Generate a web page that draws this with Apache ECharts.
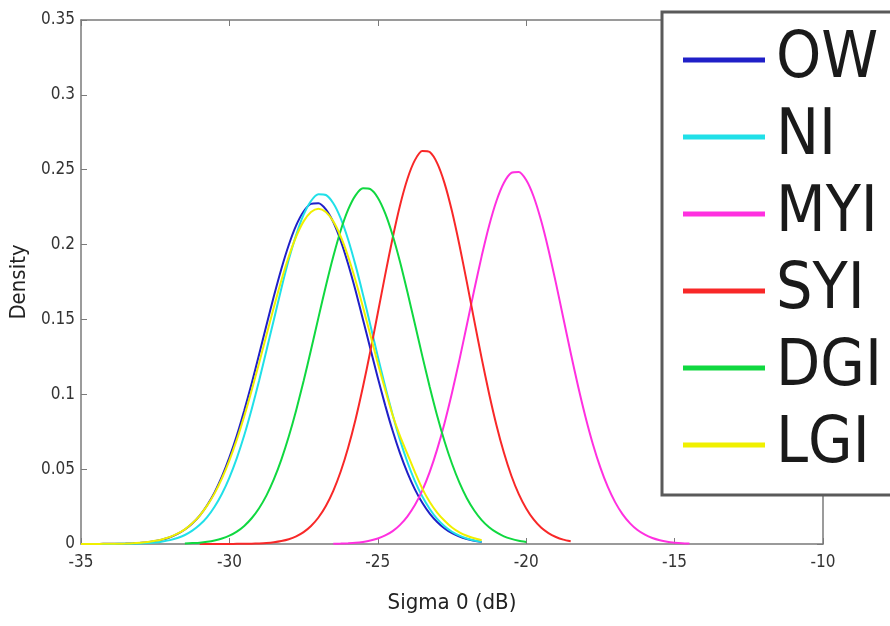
<!DOCTYPE html>
<html>
<head>
<meta charset="utf-8">
<script src="https://cdn.jsdelivr.net/npm/echarts@6/dist/echarts.min.js"></script>
<style>
  html, body { margin: 0; padding: 0; background: #fff; }
  #chart { width: 890px; height: 626px; }
</style>
</head>
<body>
<div id="chart"></div>
<script>
var font = "'DejaVu Sans Condensed', 'Liberation Sans Narrow', 'Liberation Sans', sans-serif";

// sigma 0 grid (dB), shared by every curve
var xs = [-35, -34.75, -34.5, -34.25, -34, -33.75, -33.5, -33.25, -33, -32.75, -32.5, -32.25,
  -32, -31.75, -31.5, -31.25, -31, -30.75, -30.5, -30.25, -30, -29.75, -29.5, -29.25,
  -29, -28.75, -28.5, -28.25, -28, -27.75, -27.5, -27.25, -27, -26.75, -26.5, -26.25,
  -26, -25.75, -25.5, -25.25, -25, -24.75, -24.5, -24.25, -24, -23.75, -23.5, -23.25,
  -23, -22.75, -22.5, -22.25, -22, -21.75, -21.5, -21.25, -21, -20.75, -20.5, -20.25,
  -20, -19.75, -19.5, -19.25, -19, -18.75, -18.5, -18.25, -18, -17.75, -17.5, -17.25,
  -17, -16.75, -16.5, -16.25, -16, -15.75, -15.5, -15.25, -15, -14.75, -14.5];

// densities; each curve starts at its own x (first value)
var owFrom = -35;
var ow = [0, 0, 0, 0.0001, 0.0001, 0.0002, 0.0003, 0.0005, 0.0008, 0.0012, 0.0020, 0.0030,
  0.0045, 0.0067, 0.0097, 0.0137, 0.019, 0.0259, 0.0345, 0.0451, 0.0578, 0.0724, 0.0891, 0.1072,
  0.1265, 0.1462, 0.1656, 0.1837, 0.1997, 0.2128, 0.2221, 0.2272, 0.2276, 0.2235, 0.215, 0.2026,
  0.187, 0.1693, 0.150, 0.1304, 0.111, 0.0926, 0.0756, 0.0605, 0.0475, 0.0365, 0.0275, 0.0203,
  0.0147, 0.0104, 0.0072, 0.0049, 0.0033, 0.0021, 0.0014];

var niFrom = -35;
var ni = [0, 0, 0, 0, 0, 0.0001, 0.0001, 0.0002, 0.0004, 0.0006, 0.001, 0.0017,
  0.0026, 0.004, 0.006, 0.0089, 0.0128, 0.018, 0.0249, 0.0336, 0.0444, 0.0574, 0.0726, 0.09,
  0.1091, 0.1294, 0.150, 0.1707, 0.190, 0.2065, 0.220, 0.2291, 0.2336, 0.2331, 0.2276, 0.2175,
  0.2034, 0.1861, 0.1667, 0.1461, 0.1253, 0.1052, 0.0864, 0.0694, 0.0546, 0.042, 0.0317, 0.0234,
  0.0168, 0.0119, 0.0082, 0.0056, 0.0037, 0.0024, 0.0015];

var myiFrom = -26.5;
var myi = [0.0002, 0.0003, 0.0005, 0.0008, 0.0014, 0.0023, 0.0037, 0.0057, 0.0086, 0.0128,
  0.0185, 0.026, 0.0358, 0.0482, 0.0632, 0.0809, 0.101, 0.123, 0.1463, 0.1698, 0.1923, 0.2126,
  0.2293, 0.2413, 0.2479, 0.2485, 0.2431, 0.2321, 0.2162, 0.1966, 0.1744, 0.151, 0.1276, 0.1052,
  0.0847, 0.0665, 0.051, 0.0381, 0.0278, 0.0198, 0.0138, 0.0093, 0.0062, 0.004, 0.0025, 0.0015,
  0.0009, 0.0005, 0.0003];

var syiFrom = -31;
var syi = [0, 0, 0, 0, 0, 0.0001, 0.0001, 0.0002, 0.0004, 0.0007, 0.0012, 0.002, 0.0032,
  0.0051, 0.0079, 0.012, 0.0177, 0.0254, 0.0355, 0.0484, 0.0643, 0.0832, 0.105, 0.1289, 0.1543,
  0.1799, 0.2044, 0.2263, 0.244, 0.2564, 0.2625, 0.2618, 0.2544, 0.2409, 0.2222, 0.1997, 0.1749,
  0.1492, 0.124, 0.1004, 0.0792, 0.0609, 0.0456, 0.0333, 0.0237, 0.0164, 0.011, 0.0073, 0.0047,
  0.0029, 0.0018];

var dgiFrom = -31.5;
var dgi = [0.0003, 0.0006, 0.0009, 0.0015, 0.0024, 0.0037, 0.0056, 0.0083, 0.0121, 0.0172,
  0.0239, 0.0325, 0.0433, 0.0564, 0.0718, 0.0894, 0.1089, 0.1297, 0.1512, 0.1723, 0.192, 0.2094,
  0.2233, 0.2329, 0.2376, 0.237, 0.2313, 0.2208, 0.2062, 0.1883, 0.1681, 0.1469, 0.1255, 0.1049,
  0.0857, 0.0685, 0.0536, 0.041, 0.0306, 0.0224, 0.016, 0.0112, 0.0077, 0.0051, 0.0034, 0.0022,
  0.0014];

var lgiFrom = -35;
var lgi = [0, 0, 0, 0.0001, 0.0001, 0.0002, 0.0003, 0.0005, 0.0009, 0.0014, 0.0021, 0.0032,
  0.0047, 0.0069, 0.0098, 0.0138, 0.019, 0.0256, 0.0338, 0.0439, 0.0559, 0.0697, 0.0854, 0.1025,
  0.1208, 0.1396, 0.1583, 0.176, 0.192, 0.2054, 0.2155, 0.2218, 0.224, 0.2218, 0.2155, 0.2054,
  0.192, 0.176, 0.1583, 0.1396, 0.1208, 0.103, 0.086, 0.072, 0.060, 0.048, 0.037, 0.028,
  0.021, 0.0155, 0.011, 0.0078, 0.0055, 0.0038, 0.0025];

var names = ['OW', 'NI', 'MYI', 'SYI', 'DGI', 'LGI'];
var colors = ['#2020c8', '#20e0e8', '#ff30e0', '#f82828', '#10d840', '#f0f000'];
var curves = [ow, ni, myi, syi, dgi, lgi];
var starts = [owFrom, niFrom, myiFrom, syiFrom, dgiFrom, lgiFrom];

function pairs(ys, from) {
  var k = xs.indexOf(from);
  var out = [];
  for (var i = 0; i < ys.length; i++) {
    out.push([xs[k + i], ys[i]]);
  }
  return out;
}

var series = names.map(function (n, i) {
  return {
    name: n,
    type: 'line',
    data: pairs(curves[i], starts[i]),
    color: colors[i],
    smooth: 0.25,
    showSymbol: false,
    lineStyle: { width: 2, color: colors[i] },
    xAxisIndex: 0,
    yAxisIndex: 0
  };
});

var axisGray = '#7a7a7a';
var tickLabel = { color: '#333', fontFamily: font, fontSize: 17 };

function boxAxis(extra) {
  return Object.assign({
    axisLine: { show: true, onZero: false, lineStyle: { color: axisGray, width: 1.5 } },
    axisTick: { show: true, inside: true, length: 6, lineStyle: { color: axisGray } },
    splitLine: { show: false }
  }, extra);
}

var chart = echarts.init(document.getElementById('chart'));
var option = {
  animation: false,
  backgroundColor: '#fff',
  grid: { left: 81, right: 67, top: 20, bottom: 82, containLabel: false, outerBoundsMode: 'none' },
  legend: {
    data: names,
    orient: 'vertical',
    left: 662,
    top: 12,
    padding: [16, 40, 18, 21],
    backgroundColor: '#fff',
    borderColor: '#5a5a5a',
    borderWidth: 3,
    icon: 'rect',
    itemWidth: 82,
    itemHeight: 5,
    itemGap: 13,
    selectedMode: false,
    textStyle: { color: '#1a1a1a', fontFamily: font, fontSize: 64, lineHeight: 64, padding: [0, 0, 0, 6] }
  },
  xAxis: [
    boxAxis({
      type: 'value', min: -35, max: -10, interval: 5,
      name: 'Sigma 0 (dB)', nameLocation: 'middle', nameGap: 48,
      nameTextStyle: { color: '#222', fontFamily: font, fontSize: 22 },
      axisLabel: Object.assign({ margin: 10 }, tickLabel)
    }),
    boxAxis({
      type: 'value', min: -35, max: -10, interval: 5, position: 'top',
      axisLabel: { show: false }
    })
  ],
  yAxis: [
    boxAxis({
      type: 'value', min: 0, max: 0.35, interval: 0.05,
      name: 'Density', nameLocation: 'middle', nameGap: 44, nameRotate: 90,
      nameTextStyle: { color: '#222', fontFamily: font, fontSize: 22 },
      axisLabel: Object.assign({ margin: 6 }, tickLabel)
    }),
    boxAxis({
      type: 'value', min: 0, max: 0.35, interval: 0.05, position: 'right',
      axisLabel: { show: false }
    })
  ],
  series: series
};
chart.setOption(option);
</script>
</body>
</html>
